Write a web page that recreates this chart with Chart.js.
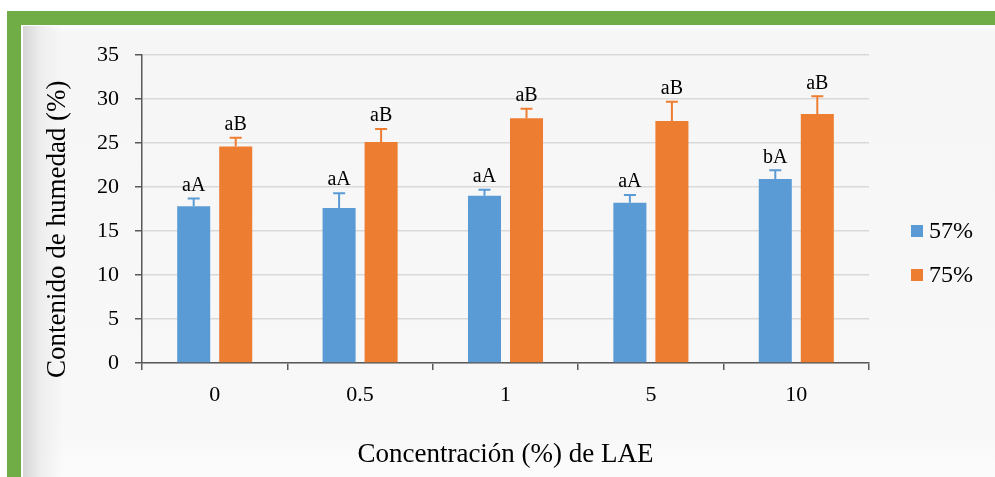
<!DOCTYPE html>
<html lang="es">
<head>
<meta charset="UTF-8">
<title>Contenido de humedad</title>
<script src="https://cdn.jsdelivr.net/npm/chart.js"></script>
<style>
    body { margin: 0; background: #ffffff; }
    .marco { position: absolute; left: 7px; top: 11px; width: 988px; height: 466px; background: #70ad47; }
    .panel {
        position: absolute; left: 21px; top: 25px; width: 974px; height: 452px;
        background:
            linear-gradient(to right, #d6d6d6 0px, #eeeeee 18px, rgba(248,248,248,0) 40px),
            linear-gradient(to bottom, #ffffff 0px, #f6f6f6 6px, #f8f8f8 412px, #fcfcfc 452px);
        border-top: 1px solid #ffffff; border-left: 2px solid #ffffff;
        box-sizing: border-box;
    }
    #grafico { position: absolute; left: 0; top: 0; }
</style>
</head>
<body>
<div class="marco"></div>
<div class="panel"></div>
<canvas id="grafico" width="995" height="477"></canvas>

<script>
    // datos
    const concentraciones = ['0', '0.5', '1', '5', '10'];
    const humedad57 = [17.8, 17.6, 19.0, 18.2, 20.9];
    const humedad75 = [24.6, 25.1, 27.8, 27.5, 28.3];
    const error57 = [0.9, 1.7, 0.7, 0.9, 1.0];
    const error75 = [1.0, 1.5, 1.1, 2.2, 2.0];
    const letras57 = ['aA', 'aA', 'aA', 'aA', 'bA'];
    const letras75 = ['aB', 'aB', 'aB', 'aB', 'aB'];

    const fuente = "'Liberation Serif', 'DejaVu Serif', serif";
    const azul = '#5b9bd5';
    const naranja = '#ed7d31';

    // barras de error + letras encima
    const barrasError = {
        id: 'barrasError',
        afterDatasetsDraw(chart) {
            const ctx = chart.ctx;
            const y = chart.scales.y;
            const errores = [error57, error75];
            const letras = [letras57, letras75];
            chart.data.datasets.forEach(function (ds, i) {
                const meta = chart.getDatasetMeta(i);
                meta.data.forEach(function (barra, j) {
                    const arriba = y.getPixelForValue(ds.data[j] + errores[i][j]);
                    ctx.save();
                    ctx.strokeStyle = ds.backgroundColor;
                    ctx.lineWidth = 2;
                    ctx.beginPath();
                    ctx.moveTo(barra.x, barra.y);
                    ctx.lineTo(barra.x, arriba);
                    ctx.moveTo(barra.x - 6, arriba);
                    ctx.lineTo(barra.x + 6, arriba);
                    ctx.stroke();
                    ctx.fillStyle = '#000000';
                    ctx.font = '20px ' + fuente;
                    ctx.textAlign = 'center';
                    ctx.textBaseline = 'bottom';
                    ctx.fillText(letras[i][j], barra.x, arriba - 3);
                    ctx.restore();
                });
            });
        }
    };

    // leyenda a la derecha
    const leyenda = {
        id: 'leyenda',
        afterDraw(chart) {
            const ctx = chart.ctx;
            ctx.save();
            ctx.font = '24px ' + fuente;
            ctx.textBaseline = 'middle';
            chart.data.datasets.forEach(function (ds, i) {
                const yy = 231 + i * 44;
                ctx.fillStyle = ds.backgroundColor;
                ctx.fillRect(911, yy - 6, 12, 12);
                ctx.fillStyle = '#000000';
                ctx.fillText(ds.label, 929, yy + 1);
            });
            ctx.restore();
        }
    };

    const dados = {
        labels: concentraciones,
        datasets: [
            { label: '57%', data: humedad57, backgroundColor: azul },
            { label: '75%', data: humedad75, backgroundColor: naranja }
        ]
    };

    const config = {
        type: 'bar',
        data: dados,
        options: {
            responsive: false,
            animation: false,
            layout: { padding: { left: 30, top: 55, right: 126, bottom: 6 } },
            datasets: { bar: { categoryPercentage: 0.578, barPercentage: 0.786 } },
            plugins: {
                legend: { display: false },
                tooltip: { enabled: false }
            },
            scales: {
                x: {
                    afterFit(s) { s.height = 108; },
                    grid: { drawOnChartArea: false, color: '#595959', tickLength: 7, lineWidth: 1.5 },
                    border: { color: '#595959', width: 1.5 },
                    ticks: { color: '#000000', font: { family: fuente, size: 22 }, padding: 12 },
                    title: {
                        display: true, text: 'Concentración (%) de LAE', color: '#000000',
                        font: { family: fuente, size: 27 }, padding: { top: 0, bottom: 0 }
                    }
                },
                y: {
                    min: 0, max: 35,
                    afterFit(s) { s.width = 112; },
                    grid: { color: '#d9d9d9', lineWidth: 1.5, tickColor: '#595959', tickLength: 7 },
                    border: { color: '#595959', width: 1.5 },
                    ticks: { stepSize: 5, color: '#000000', font: { family: fuente, size: 22 }, padding: 16 },
                    title: {
                        display: true,
                        // espacios al final para bajar el titulo como en el original
                        text: 'Contenido de humedad (%)\u00A0\u00A0\u00A0\u00A0\u00A0\u00A0',
                        color: '#000000',
                        font: { family: fuente, size: 27 }, padding: { top: 12, bottom: 0 }
                    }
                }
            }
        },
        plugins: [barrasError, leyenda]
    };

    let myChart = new Chart(document.getElementById('grafico'), config);
</script>
</body>
</html>
